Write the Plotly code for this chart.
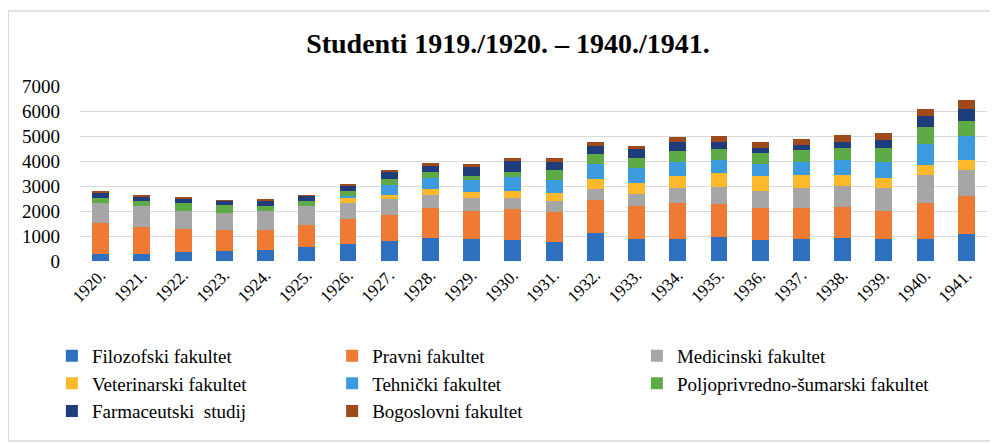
import plotly.graph_objects as go

years = ["1920.", "1921.", "1922.", "1923.", "1924.", "1925.", "1926.", "1927.",
         "1928.", "1929.", "1930.", "1931.", "1932.", "1933.", "1934.", "1935.",
         "1936.", "1937.", "1938.", "1939.", "1940.", "1941."]

filozofski = [270, 280, 350, 390, 430, 575, 700, 790, 920, 890, 830, 770, 1110, 870, 870, 960, 830, 890, 930, 870, 880, 1090]
pravni = [1240, 1070, 950, 850, 810, 880, 990, 1070, 1200, 1120, 1240, 1210, 1320, 1350, 1450, 1310, 1280, 1240, 1230, 1150, 1440, 1520]
medicinski = [810, 870, 720, 690, 760, 730, 640, 610, 510, 510, 450, 440, 470, 480, 610, 690, 710, 800, 840, 910, 1110, 1050]
veterinarski = [0, 0, 0, 0, 0, 0, 190, 160, 270, 240, 280, 320, 400, 440, 490, 560, 570, 520, 430, 410, 410, 400]
tehnicki = [0, 0, 0, 0, 0, 0, 70, 400, 440, 470, 550, 520, 600, 600, 560, 510, 480, 520, 600, 630, 850, 930]
poljoprivredno = [200, 200, 290, 310, 210, 230, 210, 240, 210, 190, 210, 370, 370, 370, 430, 450, 450, 480, 490, 560, 670, 600]
farmaceutski = [210, 175, 190, 170, 220, 190, 230, 290, 250, 350, 440, 350, 320, 360, 350, 290, 210, 210, 240, 310, 430, 490]
bogoslovni = [40, 25, 40, 10, 20, 30, 60, 90, 110, 120, 130, 150, 190, 130, 200, 230, 250, 240, 270, 270, 280, 370]

# name, values, colour, legend column
series = [
    ("Filozofski fakultet", filozofski, "#2E6FBF", "legend"),
    ("Pravni fakultet", pravni, "#EF7A33", "legend2"),
    ("Medicinski fakultet", medicinski, "#A6A6A6", "legend3"),
    ("Veterinarski fakultet", veterinarski, "#FDB92C", "legend"),
    ("Tehnički fakultet", tehnicki, "#3C9BDF", "legend2"),
    ("Poljoprivredno-šumarski fakultet", poljoprivredno, "#5DAA47", "legend3"),
    ("Farmaceutski  studij", farmaceutski, "#1F3D7A", "legend"),
    ("Bogoslovni fakultet", bogoslovni, "#9E4A1C", "legend2"),
]

fig = go.Figure()
for name, vals, color, leg in series:
    fig.add_trace(go.Bar(x=years, y=vals, name=name, marker_color=color,
                         marker_line_width=0, legend=leg, legendgroup=name))

serif = "Liberation Serif"
leg_font = dict(family=serif, size=19, color="#000000")


def col_legend(x):
    return dict(orientation="v", x=x, xanchor="left", y=-0.433, yanchor="top",
                font=leg_font, traceorder="normal", tracegroupgap=11,
                bgcolor="rgba(0,0,0,0)", itemwidth=30)


fig.update_layout(
    barmode="stack",
    bargap=0.59,
    width=998, height=444,
    margin=dict(l=72, r=19, t=78, b=191, autoexpand=False),
    paper_bgcolor="white",
    plot_bgcolor="white",
    font=dict(family=serif, size=18, color="#000000"),
    title=dict(text="<b>Studenti 1919./1920. – 1940./1941.</b>",
               x=0.501, xref="container", xanchor="center",
               y=0.92, yref="container", yanchor="middle",
               font=dict(family=serif, size=28, color="#000000")),
    legend=col_legend(-0.031),
    legend2=col_legend(0.278),
    legend3=col_legend(0.614),
    showlegend=True,
    # chart-area frame; right edge lies outside the visible window
    shapes=[dict(type="rect", xref="paper", yref="paper",
                 x0=-0.079, x1=1.1, y0=-1.029, y1=1.428,
                 line=dict(color="#D9D9D9", width=1.5), fillcolor="rgba(0,0,0,0)",
                 layer="below")],
)

fig.update_yaxes(range=[0, 7000], dtick=1000, showgrid=True, gridcolor="#D9D9D9",
                 gridwidth=1, zeroline=False, showline=False, automargin=False,
                 tickfont=dict(family=serif, size=19), ticks="", ticklabelstandoff=19)
fig.update_xaxes(tickangle=-45, showline=False, showgrid=False, automargin=False,
                 tickfont=dict(family=serif, size=17), ticks="")

fig.write_html("out.html")
